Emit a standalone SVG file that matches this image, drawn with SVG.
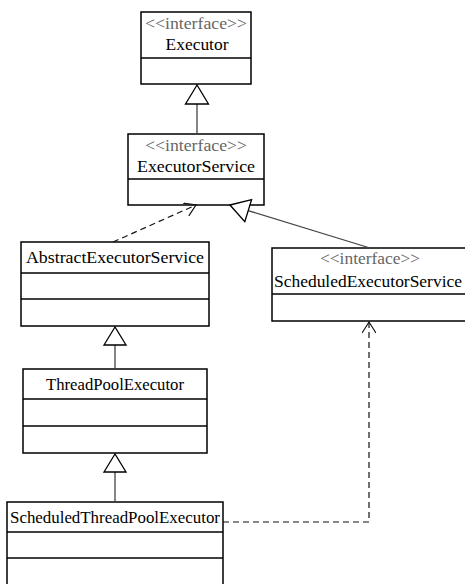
<svg xmlns="http://www.w3.org/2000/svg" width="465" height="584" viewBox="0 0 465 584">
<defs>
<style>
.box{fill:#fff;stroke:#000;stroke-width:1.5}
.div{stroke:#000;stroke-width:1.5}
.st{font-family:"Liberation Serif","Noto Serif",serif;font-size:16px;fill:#666;text-anchor:middle}
.nm{font-family:"Liberation Serif","Noto Serif",serif;font-size:17px;fill:#000;text-anchor:middle}
.gen{fill:none;stroke:#444;stroke-width:1.3}
.dep{fill:none;stroke:#111;stroke-width:1.2;stroke-dasharray:6 4}
.tri{fill:#fff;stroke:#000;stroke-width:1.3}
</style>
<marker id="open" viewBox="0 0 14 14" refX="12" refY="7" markerWidth="14" markerHeight="14" markerUnits="userSpaceOnUse" orient="auto">
<path d="M1,0 L12,7 L1,14" fill="none" stroke="#111" stroke-width="1.2"/>
</marker>
</defs>
<rect width="465" height="584" fill="#fff"/>

<g id="Executor">
<rect class="box" x="141" y="12" width="110" height="72"/>
<line class="div" x1="141" y1="58" x2="251" y2="58"/>
<text class="st" x="196" y="29" textLength="102" lengthAdjust="spacingAndGlyphs">&lt;&lt;interface&gt;&gt;</text>
<text class="nm" x="197" y="50" textLength="63" lengthAdjust="spacingAndGlyphs">Executor</text>
</g>

<g id="ExecutorService">
<rect class="box" x="128" y="134" width="136" height="71"/>
<line class="div" x1="128" y1="179" x2="264" y2="179"/>
<text class="st" x="196" y="151" textLength="102" lengthAdjust="spacingAndGlyphs">&lt;&lt;interface&gt;&gt;</text>
<text class="nm" x="196" y="172" textLength="118" lengthAdjust="spacingAndGlyphs">ExecutorService</text>
</g>

<g id="AbstractExecutorService">
<rect class="box" x="21" y="242" width="188" height="84"/>
<line class="div" x1="21" y1="273" x2="209" y2="273"/>
<line class="div" x1="21" y1="299" x2="209" y2="299"/>
<text class="nm" x="115" y="263" textLength="178" lengthAdjust="spacingAndGlyphs">AbstractExecutorService</text>
</g>

<g id="ScheduledExecutorService">
<rect class="box" x="272" y="248" width="200" height="73"/>
<line class="div" x1="272" y1="294" x2="472" y2="294"/>
<text class="st" x="370" y="264" textLength="100" lengthAdjust="spacingAndGlyphs">&lt;&lt;interface&gt;&gt;</text>
<text class="nm" x="368" y="287" textLength="188" lengthAdjust="spacingAndGlyphs">ScheduledExecutorService</text>
</g>

<g id="ThreadPoolExecutor">
<rect class="box" x="23" y="369" width="184" height="84"/>
<line class="div" x1="23" y1="399" x2="207" y2="399"/>
<line class="div" x1="23" y1="426" x2="207" y2="426"/>
<text class="nm" x="115" y="390" textLength="138" lengthAdjust="spacingAndGlyphs">ThreadPoolExecutor</text>
</g>

<g id="ScheduledThreadPoolExecutor">
<rect class="box" x="7" y="502" width="216" height="90"/>
<line class="div" x1="7" y1="532" x2="223" y2="532"/>
<line class="div" x1="7" y1="558" x2="223" y2="558"/>
<text class="nm" x="115" y="523" textLength="210" lengthAdjust="spacingAndGlyphs">ScheduledThreadPoolExecutor</text>
</g>

<g id="connectors">
<line class="gen" x1="197" y1="104" x2="197" y2="134"/>
<polygon class="tri" points="197,85 185.5,104 208.5,104"/>

<line class="gen" x1="248" y1="210.6" x2="370" y2="248"/>
<polygon class="tri" points="230,205 251.6,199.6 244.8,221.6"/>

<line class="gen" x1="115" y1="345" x2="115" y2="369"/>
<polygon class="tri" points="115,327 104,345 126,345"/>

<line class="gen" x1="115" y1="472" x2="115" y2="502"/>
<polygon class="tri" points="115,454 104,472 126,472"/>

<path class="dep" d="M113,242 L196,205" marker-end="url(#open)"/>
<path class="dep" d="M223,522 H369 V322" marker-end="url(#open)"/>
</g>
</svg>
